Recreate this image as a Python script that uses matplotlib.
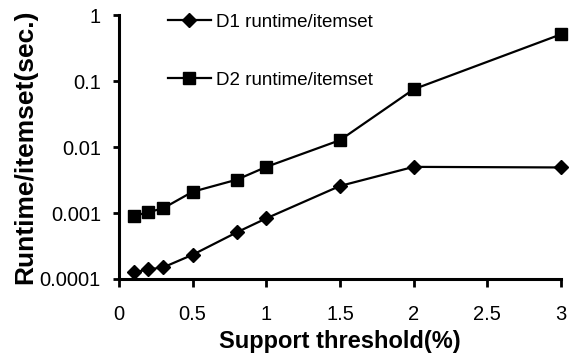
import matplotlib.pyplot as plt
from matplotlib.ticker import FixedLocator, NullLocator

plt.rcParams['font.family'] = ['Liberation Sans', 'DejaVu Sans']

# data
support = [0.1, 0.2, 0.3, 0.5, 0.8, 1.0, 1.5, 2.0, 3.0]
d1_runtime = [0.000126, 0.000140, 0.000150, 0.000233, 0.00051, 0.00083,
              0.00257, 0.0050, 0.0049]
d2_runtime = [0.00090, 0.00103, 0.00118, 0.0021, 0.0032, 0.0050,
              0.0127, 0.075, 0.51]
x_ticks = [0, 0.5, 1, 1.5, 2, 2.5, 3]
x_labels = ["0", "0.5", "1", "1.5", "2", "2.5", "3"]
y_ticks = [0.0001, 0.001, 0.01, 0.1, 1]
y_labels = ["0.0001", "0.001", "0.01", "0.1", "1"]

fig = plt.figure(figsize=(5.73, 3.58), dpi=100)
ax = fig.add_axes([0.2077, 0.2207, 0.7713, 0.7373])

ax.plot(support, d1_runtime, color="black", lw=1.6, marker="D", ms=7,
        label="D1 runtime/itemset", clip_on=False, zorder=3)
ax.plot(support, d2_runtime, color="black", lw=1.6, marker="s", ms=8,
        label="D2 runtime/itemset", clip_on=False, zorder=3)

ax.set_yscale("log")
ax.set_xlim(0, 3)
ax.set_ylim(0.0001, 1)
ax.xaxis.set_major_locator(FixedLocator(x_ticks))
ax.set_xticklabels(x_labels, fontsize=14.5)
ax.yaxis.set_major_locator(FixedLocator(y_ticks))
ax.yaxis.set_minor_locator(NullLocator())
ax.set_yticklabels(y_labels, fontsize=14.5)

for side in ["top", "right"]:
    ax.spines[side].set_visible(False)
for side in ["left", "bottom"]:
    ax.spines[side].set_linewidth(2.2)
ax.tick_params(axis="x", direction="out", length=6, width=2, pad=13)
ax.tick_params(axis="y", direction="out", length=4, width=2, pad=9)

ax.set_xlabel("Support threshold(%)", fontsize=17, fontweight="bold")
ax.set_ylabel("Runtime/itemset(sec.)", fontsize=19, fontweight="bold")
ax.xaxis.set_label_coords(0.5, -0.195)
ax.yaxis.set_label_coords(-0.185, 0.5)

ax.legend(loc="upper left", bbox_to_anchor=(0.072, 1.07), frameon=False,
          prop={"size": 13.5}, labelspacing=2.2, handlelength=2.3,
          handletextpad=0.25)

fig.savefig("out.png", dpi=100)
